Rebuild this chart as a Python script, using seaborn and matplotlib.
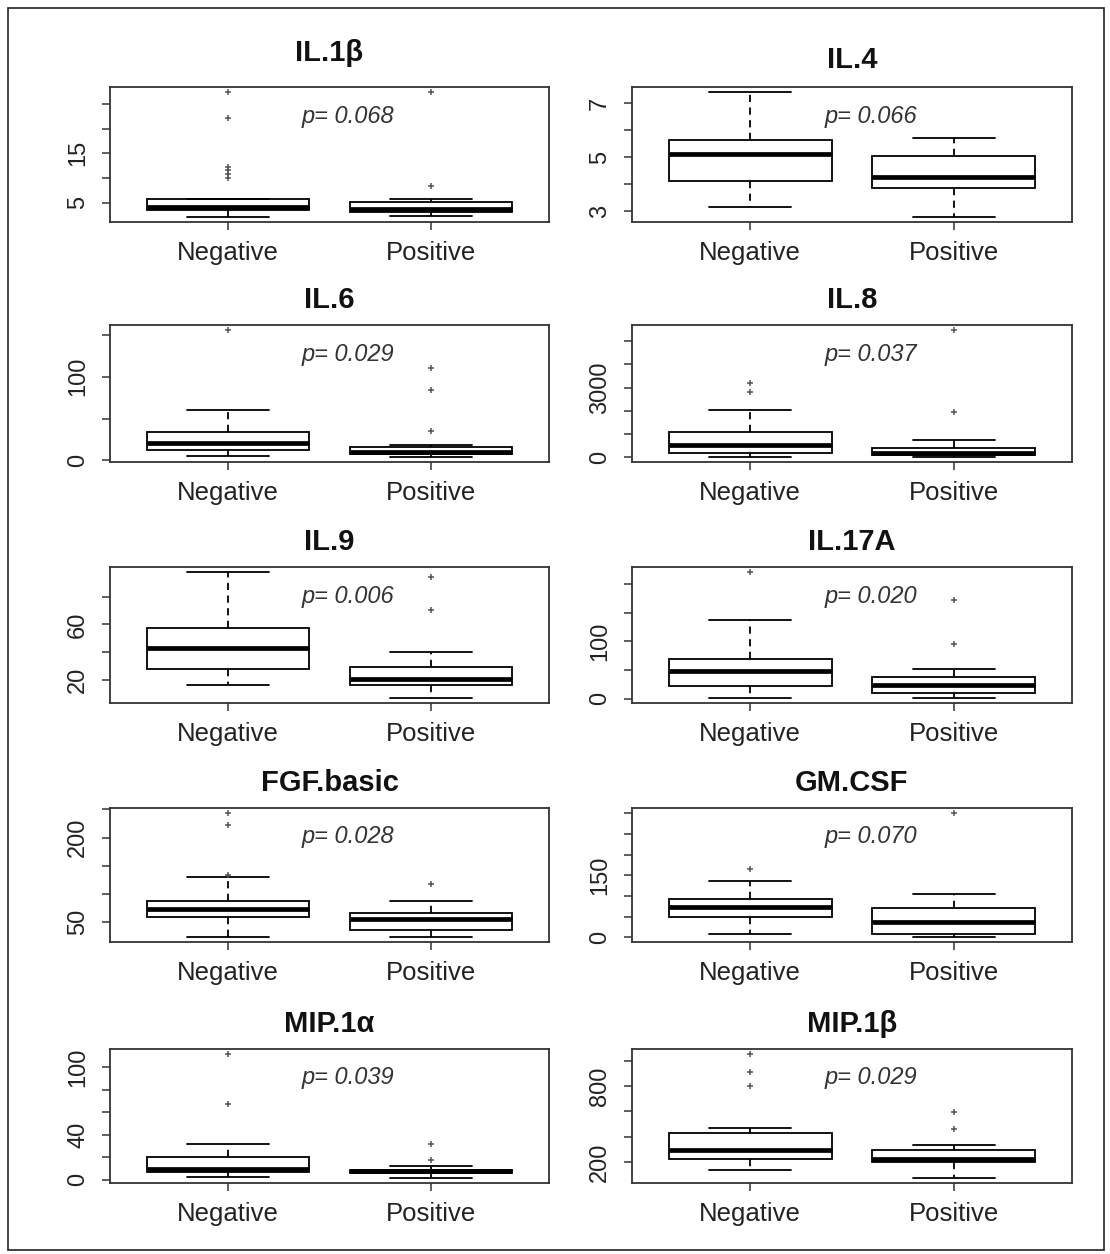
import pandas as pd
import matplotlib.pyplot as plt
import seaborn as sns
from matplotlib.patches import Rectangle

# Panel names, p-values and the two groups
cytokines = ['IL.1β', 'IL.4', 'IL.6', 'IL.8', 'IL.9',
             'IL.17A', 'FGF.basic', 'GM.CSF', 'MIP.1α', 'MIP.1β']
p_values = ['0.068', '0.066', '0.029', '0.037', '0.006',
            '0.020', '0.028', '0.070', '0.039', '0.029']
groups = ['Negative', 'Positive']

negative = [
    [2.1, 2.5, 2.8, 3.0, 3.2, 3.4, 3.6, 3.7, 3.8, 3.9, 4.0, 4.1, 4.2,
     4.5, 4.8, 5.1, 5.4, 5.6, 5.8, 9.9, 10.9, 11.7, 12.3, 22.1, 27.4],
    [3.15, 3.5, 3.8, 4.0, 4.12, 4.4, 4.7, 4.9, 5.13, 5.2, 5.35, 5.5, 5.62,
     6.0, 6.5, 7.0, 7.42],
    [5.6, 8, 10, 11, 12.1, 14, 16, 18, 20.6, 24, 27, 30, 33.9, 40, 48, 59.7, 156],
    [14, 60, 100, 150, 188, 280, 360, 440, 522, 650, 800, 950, 1087,
     1400, 2029, 2826, 3203],
    [16.9, 20, 23, 26, 28.4, 32, 36, 40, 42.8, 46, 50, 54, 57.5, 65, 75, 86, 97.6],
    [1.2, 6, 11, 16, 21.6, 28, 35, 42, 47.8, 53, 58, 64, 70, 85, 100, 138, 221],
    [24, 35, 45, 53, 58.9, 63, 67, 70, 73.6, 77, 80.5, 84, 87.8,
     129.7, 134.4, 222.4, 243.6],
    [8.9, 20, 32, 42, 48.4, 55, 62, 68, 73.4, 78, 83, 88, 92.7, 105, 118, 136.3, 164.5],
    [2.4, 4, 5, 6, 6.8, 7.5, 8.2, 8.8, 9.5, 12, 15, 17.5, 20.1, 24, 32, 67.5, 111.8],
    [137, 160, 185, 205, 224, 240, 258, 276, 294, 320, 350, 390, 425,
     467, 800, 908, 1052],
]
positive = [
    [2.3, 2.5, 2.7, 2.9, 3.1, 3.3, 3.4, 3.5, 3.7, 4.1, 4.5, 4.8, 5.1, 5.4, 5.8, 8.3, 27.4],
    [2.78, 3.2, 3.5, 3.7, 3.87, 3.95, 4.05, 4.15, 4.25, 4.45, 4.65, 4.85, 5.06,
     5.2, 5.35, 5.5, 5.70],
    [4.0, 5, 6, 7, 7.7, 8.2, 8.7, 9.2, 9.7, 11, 12.5, 14, 15.3, 17.7, 35.5, 83.9, 110],
    [14, 30, 50, 70, 87, 110, 135, 160, 188, 240, 300, 350, 406, 550, 725, 1957, 5478],
    [7.3, 10, 13, 15, 16.9, 18, 19, 20, 21.2, 23, 25, 27.5, 29.6, 34, 40.4, 70.1, 93.8],
    [1.2, 3, 5, 7, 9.3, 13, 17, 21, 24.5, 28, 31, 34.5, 37.9, 45, 52.5, 95, 172],
    [24, 28, 31, 34, 37, 42, 47, 52, 55.9, 58.5, 61, 64, 66.5, 72, 78, 87.8, 118.5],
    [0.8, 3, 5, 7, 8.9, 15, 22, 29, 36.3, 45, 54, 63, 71.8, 80, 90, 104, 300.8],
    [1.5, 3, 4, 5, 5.9, 6.3, 6.7, 7.0, 7.4, 7.8, 8.2, 8.5, 8.9, 10.5, 12.4, 17.2, 32],
    [72, 120, 160, 185, 200, 206, 212, 218, 224, 240, 258, 275, 292, 310, 334, 459, 593],
]

# y ticks and the labels R kept (blank = tick without label)
y_ticks = [
    [5, 10, 15, 20, 25],
    [3, 4, 5, 6, 7],
    [0, 50, 100, 150],
    [0, 1000, 2000, 3000, 4000, 5000],
    [20, 40, 60, 80],
    [0, 50, 100, 150, 200],
    [50, 100, 150, 200, 250],
    [0, 50, 100, 150, 200, 250, 300],
    [0, 20, 40, 60, 80, 100],
    [200, 400, 600, 800, 1000],
]
y_labels = [
    ['5', '', '15', '', ''],
    ['3', '', '5', '', '7'],
    ['0', '', '100', ''],
    ['0', '', '', '3000', '', ''],
    ['20', '', '60', ''],
    ['0', '', '100', '', ''],
    ['50', '', '', '200', ''],
    ['0', '', '', '150', '', '', ''],
    ['0', '', '40', '', '', '100'],
    ['200', '', '', '800', ''],
]

sns.set_theme(style='ticks')
plt.rcParams['font.family'] = ['Liberation Sans', 'DejaVu Sans']

W, H = 1110, 1254
fig = plt.figure(figsize=(W / 100, H / 100), dpi=100)
fig.patch.set_facecolor('white')

# panel frame positions in pixels
col_x = [(110, 549), (632, 1072)]
row_y = [(87, 222), (325, 462), (567, 703), (808, 942), (1049, 1183)]
title_pad = [19, 13.5, 12, 12, 12, 12, 12, 12, 12, 12]

for i, name in enumerate(cytokines):
    r, c = divmod(i, 2)
    x0, x1 = col_x[c]
    y0, y1 = row_y[r]
    ax = fig.add_axes([x0 / W, 1 - y1 / H, (x1 - x0) / W, (y1 - y0) / H])

    neg, pos = negative[i], positive[i]
    df = pd.DataFrame({
        'group': [groups[0]] * len(neg) + [groups[1]] * len(pos),
        'value': neg + pos,
    })
    sns.boxplot(
        data=df, x='group', y='value', order=groups, ax=ax,
        color='white', linecolor='black', linewidth=1.3, width=0.8,
        saturation=1, whis=1.5,
        whiskerprops={'linestyle': (0, (4, 3))},
        medianprops={'linewidth': 3.4},
        flierprops={'marker': '+', 'markersize': 4,
                    'markeredgecolor': '#555555', 'markeredgewidth': 1.1},
    )

    # R style limits: 4% padding around the data range
    lo, hi = min(neg + pos), max(neg + pos)
    pad = 0.04 * (hi - lo)
    ax.set_ylim(lo - pad, hi + pad)
    ax.set_xlim(-0.58, 1.58)

    ax.set_yticks(y_ticks[i])
    ax.set_yticklabels(y_labels[i], rotation=90, va='center')
    ax.set_xlabel('')
    ax.set_ylabel('')
    ax.tick_params(axis='both', direction='out', length=6, width=1.1,
                   color='#333333', labelcolor='#222222', bottom=True, left=True)
    ax.tick_params(axis='x', labelsize=18.5, pad=8)
    ax.tick_params(axis='y', labelsize=17, pad=9)
    for sp in ax.spines.values():
        sp.set_visible(True)
        sp.set_linewidth(1.3)
        sp.set_color('#333333')

    ax.set_title(name, fontsize=21, fontweight='bold', pad=title_pad[i], color='#111111')
    ax.text(0.542, 0.785, f'p= {p_values[i]}', transform=ax.transAxes,
            ha='center', va='center', fontsize=17, style='italic', color='#333333')

# outer frame of the figure
fig.patches.append(Rectangle((8 / W, 1 - 1250 / H), 1096 / W, 1242 / H,
                             transform=fig.transFigure, fill=False,
                             edgecolor='#222222', linewidth=1.2))

fig.savefig('out.png', dpi=100, facecolor='white')
